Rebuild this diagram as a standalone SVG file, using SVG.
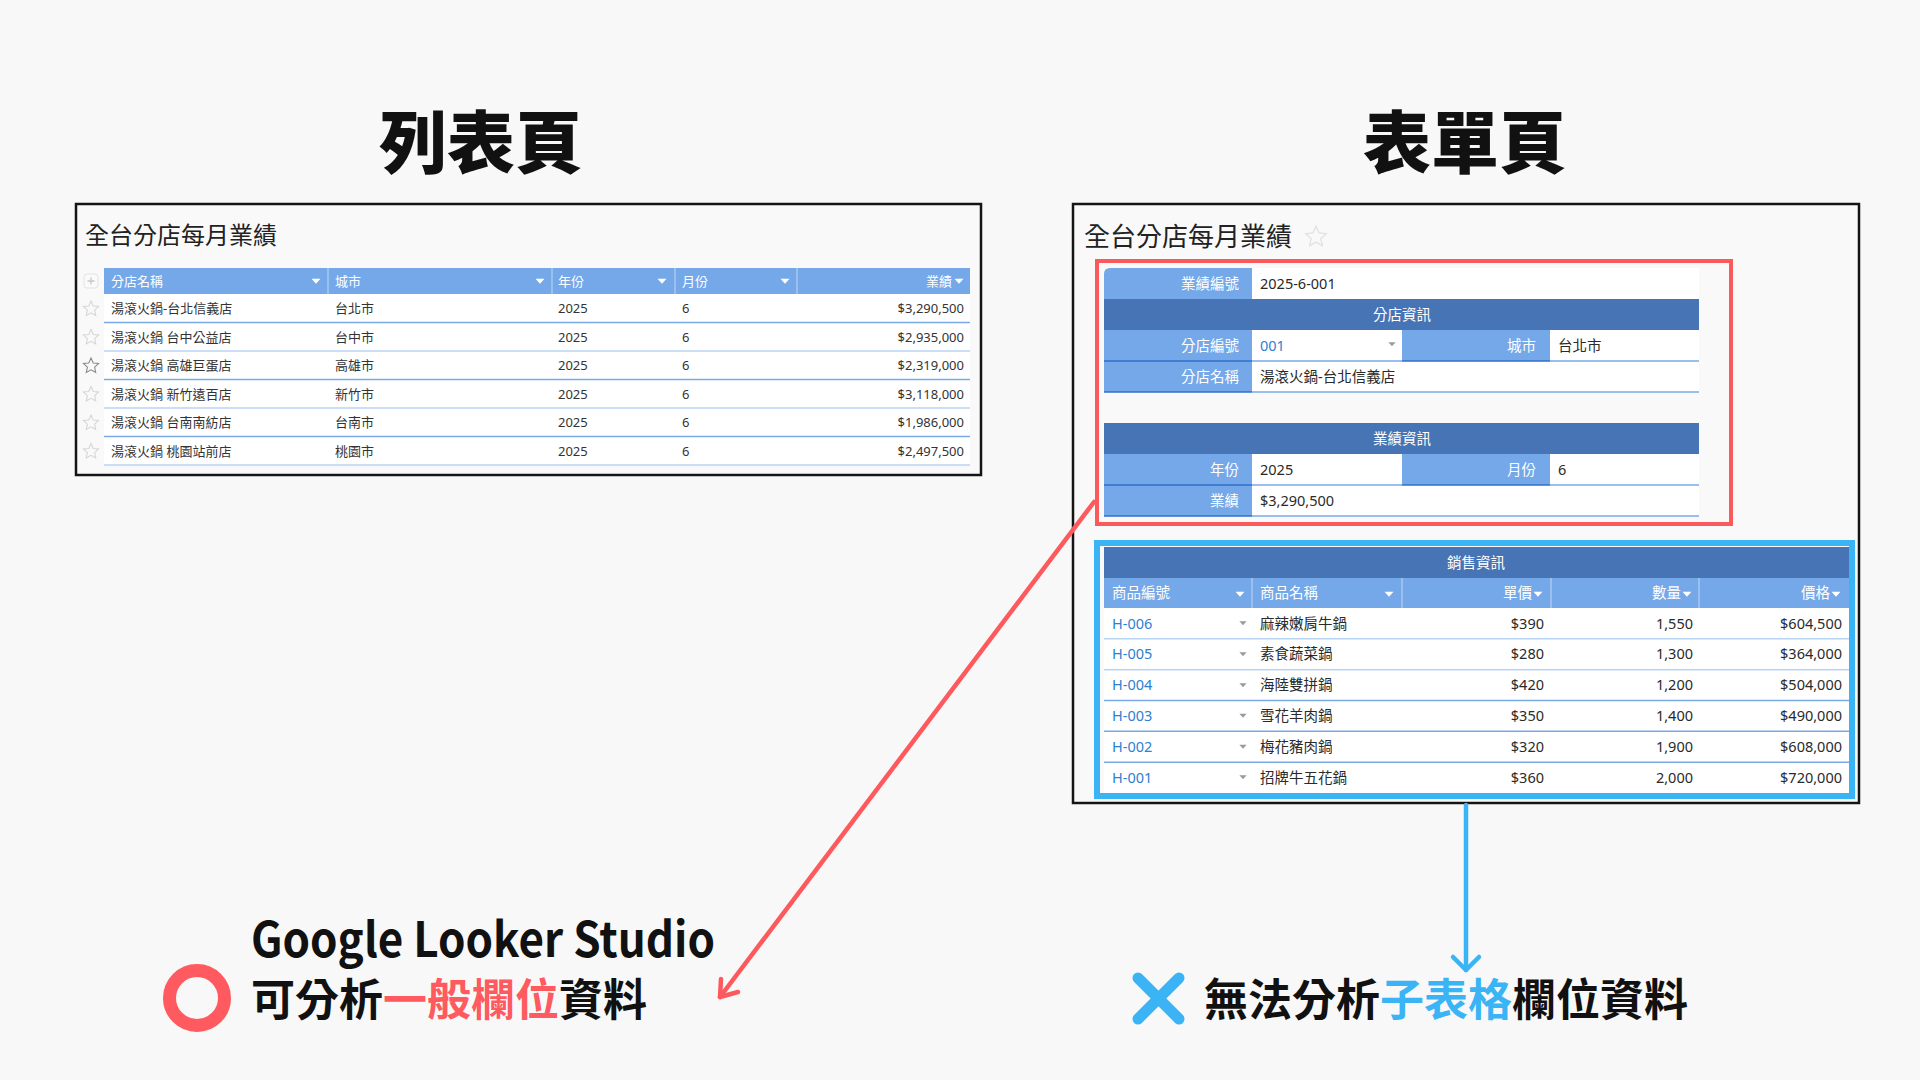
<svg xmlns="http://www.w3.org/2000/svg" xmlns:xlink="http://www.w3.org/1999/xlink" width="1920" height="1080" viewBox="0 0 1920 1080">
<style>
.t{font-family:"Noto Sans","Noto Sans CJK TC",sans-serif}
.cjk{font-family:"Noto Sans CJK TC","Noto Sans",sans-serif}
.panel{fill:#f9f9f9;stroke:#141414;stroke-width:2.5}
.hdr{fill:#74a8e8}
.sec{fill:#4774b5}
.cell{fill:#ffffff}
.th{font-size:13px;fill:#ffffff}
.td{font-size:13px;fill:#333333}
.fl{font-size:14.5px;fill:#ffffff;text-anchor:end}
.fv{font-size:14.5px;fill:#2a2a2a}
.fs{font-size:14.5px;fill:#ffffff;text-anchor:middle}
.end{text-anchor:end}
.lnk{fill:#2d80d2}
.sep1{stroke:#79aae6;stroke-width:1.5}
.sep2{stroke:#b8d4f5;stroke-width:1.5}
.sepd{stroke:#2f6fcc;stroke-width:1.5}
.div{stroke:#a9c9f0;stroke-width:1.5}
.wt{fill:#ffffff}
.dd{fill:#9a9a9a}
.star{fill:none;stroke:#d6d6d6;stroke-width:1.1}
.big{font-weight:900;font-size:68px;fill:#111111;text-anchor:middle}
.cap{font-weight:700;fill:#111111}
.red{fill:#fe5a5f}
.blue{fill:#3ab4f5}
</style>
<defs>
<path id="tri" d="M-4.5,-2.3 L4.5,-2.3 L0,2.7 Z"/>
<path id="ddtri" d="M-3.6,-1.8 L3.6,-1.8 L0,2.2 Z"/>
<polygon id="star" points="0,-8 2.23,-3.07 7.61,-2.47 3.61,1.17 4.70,6.47 0,3.8 -4.70,6.47 -3.61,1.17 -7.61,-2.47 -2.23,-3.07"/>
</defs>
<rect class="bg" x="0" y="0" width="1920" height="1080" fill="#f8f8f8"/>

<g id="title-list">
<text class="cjk big" x="481" y="168">列表頁</text>
</g>
<g id="title-form">
<text class="cjk big" x="1465" y="168">表單頁</text>
</g>

<g id="list-page">
<rect class="panel" x="76" y="204" width="905" height="271"/>
<text class="cjk" x="85" y="244" font-size="24" fill="#222">全台分店每月業績</text>
<rect x="84" y="274" width="14" height="14" rx="3" fill="#fafafa" stroke="#e3e3e3"/>
<path d="M91,277.5 V284.5 M87.5,281 H94.5" stroke="#c8c8c8" stroke-width="1.3"/>
<rect class="hdr" x="104" y="268" width="866" height="26"/>
<rect class="cell" x="104" y="294" width="866" height="171"/>
<g>
<line class="div" x1="328" y1="268" x2="328" y2="294"/>
<line class="div" x1="552" y1="268" x2="552" y2="294"/>
<line class="div" x1="675" y1="268" x2="675" y2="294"/>
<line class="div" x1="797" y1="268" x2="797" y2="294"/>
</g>
<g class="t th">
<text x="111" y="285.5">分店名稱</text>
<text x="335" y="285.5">城市</text>
<text x="558" y="285.5">年份</text>
<text x="682" y="285.5">月份</text>
<text x="952" y="285.5" text-anchor="end">業績</text>
</g>
<g class="wt">
<use xlink:href="#tri" x="316" y="281"/>
<use xlink:href="#tri" x="540" y="281"/>
<use xlink:href="#tri" x="662" y="281"/>
<use xlink:href="#tri" x="785" y="281"/>
<use xlink:href="#tri" x="959" y="281"/>
</g>
<g>
<line class="sep1" x1="104" y1="322.5" x2="970" y2="322.5"/>
<line class="sep2" x1="104" y1="351" x2="970" y2="351"/>
<line class="sep1" x1="104" y1="379.5" x2="970" y2="379.5"/>
<line class="sep2" x1="104" y1="408" x2="970" y2="408"/>
<line class="sep1" x1="104" y1="436.5" x2="970" y2="436.5"/>
<line class="sep2" x1="104" y1="465" x2="970" y2="465"/>
</g>
<g class="star">
<use xlink:href="#star" x="91" y="309"/>
<use xlink:href="#star" x="91" y="337.5"/>
<use xlink:href="#star" x="91" y="366" style="stroke:#8a8a8a"/>
<use xlink:href="#star" x="91" y="394.5"/>
<use xlink:href="#star" x="91" y="423"/>
<use xlink:href="#star" x="91" y="451.5"/>
</g>
<g class="t td">
<text x="111" y="313">湯滾火鍋-台北信義店</text><text x="335" y="313">台北市</text><text x="558" y="313">2025</text><text x="682" y="313">6</text><text x="964" y="313" text-anchor="end">$3,290,500</text>
<text x="111" y="341.5">湯滾火鍋 台中公益店</text><text x="335" y="341.5">台中市</text><text x="558" y="341.5">2025</text><text x="682" y="341.5">6</text><text x="964" y="341.5" text-anchor="end">$2,935,000</text>
<text x="111" y="370">湯滾火鍋 高雄巨蛋店</text><text x="335" y="370">高雄市</text><text x="558" y="370">2025</text><text x="682" y="370">6</text><text x="964" y="370" text-anchor="end">$2,319,000</text>
<text x="111" y="398.5">湯滾火鍋 新竹遠百店</text><text x="335" y="398.5">新竹市</text><text x="558" y="398.5">2025</text><text x="682" y="398.5">6</text><text x="964" y="398.5" text-anchor="end">$3,118,000</text>
<text x="111" y="427">湯滾火鍋 台南南紡店</text><text x="335" y="427">台南市</text><text x="558" y="427">2025</text><text x="682" y="427">6</text><text x="964" y="427" text-anchor="end">$1,986,000</text>
<text x="111" y="455.5">湯滾火鍋 桃園站前店</text><text x="335" y="455.5">桃園市</text><text x="558" y="455.5">2025</text><text x="682" y="455.5">6</text><text x="964" y="455.5" text-anchor="end">$2,497,500</text>
</g>
</g>

<g id="form-page">
<rect class="panel" x="1073" y="204" width="786" height="599"/>
<text class="cjk" x="1084" y="246" font-size="26" fill="#222">全台分店每月業績</text>
<use xlink:href="#star" transform="translate(1316,237) scale(1.35)" style="fill:none;stroke:#e2e2e2;stroke-width:1"/>
</g>

<g id="form-fields">
<path class="hdr" d="M1110,268 H1252 V299 H1104 V274 Q1104,268 1110,268 Z"/>
<rect class="cell" x="1252" y="268" width="447" height="31"/>
<rect class="sec" x="1104" y="299" width="595" height="31"/>
<rect class="hdr" x="1104" y="330" width="148" height="62"/>
<rect class="cell" x="1252" y="330" width="150" height="31"/>
<rect class="hdr" x="1402" y="330" width="148" height="31"/>
<rect class="cell" x="1550" y="330" width="149" height="31"/>
<rect class="cell" x="1252" y="361" width="447" height="31"/>
<rect class="sec" x="1104" y="423" width="595" height="31"/>
<rect class="hdr" x="1104" y="454" width="148" height="62"/>
<rect class="cell" x="1252" y="454" width="150" height="31"/>
<rect class="hdr" x="1402" y="454" width="148" height="31"/>
<rect class="cell" x="1550" y="454" width="149" height="31"/>
<rect class="cell" x="1252" y="485" width="447" height="31"/>
<g>
<line class="sepd" x1="1104" y1="361" x2="1252" y2="361"/>
<line class="sep1" x1="1252" y1="361" x2="1402" y2="361"/>
<line class="sepd" x1="1402" y1="361" x2="1550" y2="361"/>
<line class="sep1" x1="1550" y1="361" x2="1699" y2="361"/>
<line class="sepd" x1="1104" y1="392" x2="1252" y2="392"/>
<line class="sep1" x1="1252" y1="392" x2="1699" y2="392"/>
<line class="sepd" x1="1104" y1="485" x2="1252" y2="485"/>
<line class="sep1" x1="1252" y1="485" x2="1402" y2="485"/>
<line class="sepd" x1="1402" y1="485" x2="1550" y2="485"/>
<line class="sep1" x1="1550" y1="485" x2="1699" y2="485"/>
<line class="sepd" x1="1104" y1="516" x2="1252" y2="516"/>
<line class="sep1" x1="1252" y1="516" x2="1699" y2="516"/>
</g>
<g class="t">
<text class="fl" x="1239" y="289">業績編號</text>
<text class="fv" x="1260" y="289">2025-6-001</text>
<text class="fs" x="1402" y="320">分店資訊</text>
<text class="fl" x="1239" y="351">分店編號</text>
<text class="fv lnk" x="1260" y="351">001</text>
<text class="fl" x="1536" y="351">城市</text>
<text class="fv" x="1558" y="351">台北市</text>
<text class="fl" x="1239" y="382">分店名稱</text>
<text class="fv" x="1260" y="382">湯滾火鍋-台北信義店</text>
<text class="fs" x="1402" y="444">業績資訊</text>
<text class="fl" x="1239" y="475">年份</text>
<text class="fv" x="1260" y="475">2025</text>
<text class="fl" x="1536" y="475">月份</text>
<text class="fv" x="1558" y="475">6</text>
<text class="fl" x="1239" y="506">業績</text>
<text class="fv" x="1260" y="506">$3,290,500</text>
</g>
<use class="dd" xlink:href="#ddtri" x="1392" y="344"/>
<rect x="1097" y="261" width="634" height="263" fill="none" stroke="#fb5a5d" stroke-width="4"/>
</g>

<g id="sales-subtable">
<rect class="sec" x="1104" y="547" width="745" height="31"/>
<rect class="hdr" x="1104" y="578" width="745" height="30"/>
<rect class="cell" x="1104" y="608" width="745" height="185"/>
<g>
<line class="div" x1="1252" y1="578" x2="1252" y2="608"/>
<line class="div" x1="1402" y1="578" x2="1402" y2="608"/>
<line class="div" x1="1551" y1="578" x2="1551" y2="608"/>
<line class="div" x1="1699" y1="578" x2="1699" y2="608"/>
</g>
<g class="t">
<text class="fs" x="1476" y="568">銷售資訊</text>
<text class="fv" x="1112" y="598" style="fill:#fff">商品編號</text>
<text class="fv" x="1260" y="598" style="fill:#fff">商品名稱</text>
<text class="fl" x="1532" y="598">單價</text>
<text class="fl" x="1681" y="598">數量</text>
<text class="fl" x="1830" y="598">價格</text>
</g>
<g class="wt">
<use xlink:href="#tri" x="1240" y="594"/>
<use xlink:href="#tri" x="1389" y="594"/>
<use xlink:href="#tri" x="1538" y="594"/>
<use xlink:href="#tri" x="1687" y="594"/>
<use xlink:href="#tri" x="1836" y="594"/>
</g>
<g>
<line class="sep2" x1="1104" y1="638.8" x2="1849" y2="638.8"/>
<line class="sep2" x1="1104" y1="669.7" x2="1849" y2="669.7"/>
<line class="sep1" x1="1104" y1="700.5" x2="1849" y2="700.5"/>
<line class="sep1" x1="1104" y1="731.3" x2="1849" y2="731.3"/>
<line class="sep1" x1="1104" y1="762.2" x2="1849" y2="762.2"/>
</g>
<g class="dd">
<use xlink:href="#ddtri" x="1243" y="623"/>
<use xlink:href="#ddtri" x="1243" y="654"/>
<use xlink:href="#ddtri" x="1243" y="685"/>
<use xlink:href="#ddtri" x="1243" y="715.5"/>
<use xlink:href="#ddtri" x="1243" y="746.5"/>
<use xlink:href="#ddtri" x="1243" y="777"/>
</g>
<g class="t">
<text class="fv lnk" x="1112" y="628.5">H-006</text><text class="fv" x="1260" y="628.5">麻辣嫩肩牛鍋</text>
<text class="fv end" x="1544" y="628.5">$390</text><text class="fv end" x="1693" y="628.5">1,550</text><text class="fv end" x="1842" y="628.5">$604,500</text>
<text class="fv lnk" x="1112" y="659.3">H-005</text><text class="fv" x="1260" y="659.3">素食蔬菜鍋</text>
<text class="fv end" x="1544" y="659.3">$280</text><text class="fv end" x="1693" y="659.3">1,300</text><text class="fv end" x="1842" y="659.3">$364,000</text>
<text class="fv lnk" x="1112" y="690.2">H-004</text><text class="fv" x="1260" y="690.2">海陸雙拼鍋</text>
<text class="fv end" x="1544" y="690.2">$420</text><text class="fv end" x="1693" y="690.2">1,200</text><text class="fv end" x="1842" y="690.2">$504,000</text>
<text class="fv lnk" x="1112" y="721">H-003</text><text class="fv" x="1260" y="721">雪花羊肉鍋</text>
<text class="fv end" x="1544" y="721">$350</text><text class="fv end" x="1693" y="721">1,400</text><text class="fv end" x="1842" y="721">$490,000</text>
<text class="fv lnk" x="1112" y="751.8">H-002</text><text class="fv" x="1260" y="751.8">梅花豬肉鍋</text>
<text class="fv end" x="1544" y="751.8">$320</text><text class="fv end" x="1693" y="751.8">1,900</text><text class="fv end" x="1842" y="751.8">$608,000</text>
<text class="fv lnk" x="1112" y="782.7">H-001</text><text class="fv" x="1260" y="782.7">招牌牛五花鍋</text>
<text class="fv end" x="1544" y="782.7">$360</text><text class="fv end" x="1693" y="782.7">2,000</text><text class="fv end" x="1842" y="782.7">$720,000</text>
</g>
<rect x="1097" y="543" width="755" height="253" fill="none" stroke="#3ab4f5" stroke-width="6"/>
</g>

<g id="connectors" fill="none" stroke-linecap="round" stroke-linejoin="round">
<path d="M1094,502 L720,997" stroke="#fe5a5e" stroke-width="4.5"/>
<path d="M721,979 L720,997 L738,992" stroke="#fe5a5e" stroke-width="4.5"/>
<path d="M1466,805 L1466,970" stroke="#3ab4f5" stroke-width="4.5"/>
<path d="M1453,957 L1466,970 L1479,957" stroke="#3ab4f5" stroke-width="4.5"/>
</g>

<g id="caption-ok">
<circle cx="197" cy="998" r="27.5" fill="none" stroke="#fe5a5f" stroke-width="13"/>
<text class="cjk cap" x="251" y="957" font-size="48" textLength="464" lengthAdjust="spacingAndGlyphs">Google Looker Studio</text>
<text class="cjk cap" x="251" y="1016" font-size="44">可分析<tspan class="red">一般欄位</tspan>資料</text>
</g>

<g id="caption-ng">
<path d="M1138,978 L1179,1019 M1179,978 L1138,1019" stroke="#3ab4f5" stroke-width="11" stroke-linecap="round" fill="none"/>
<text class="cjk cap" x="1204" y="1016" font-size="44">無法分析<tspan class="blue">子表格</tspan>欄位資料</text>
</g>
</svg>
